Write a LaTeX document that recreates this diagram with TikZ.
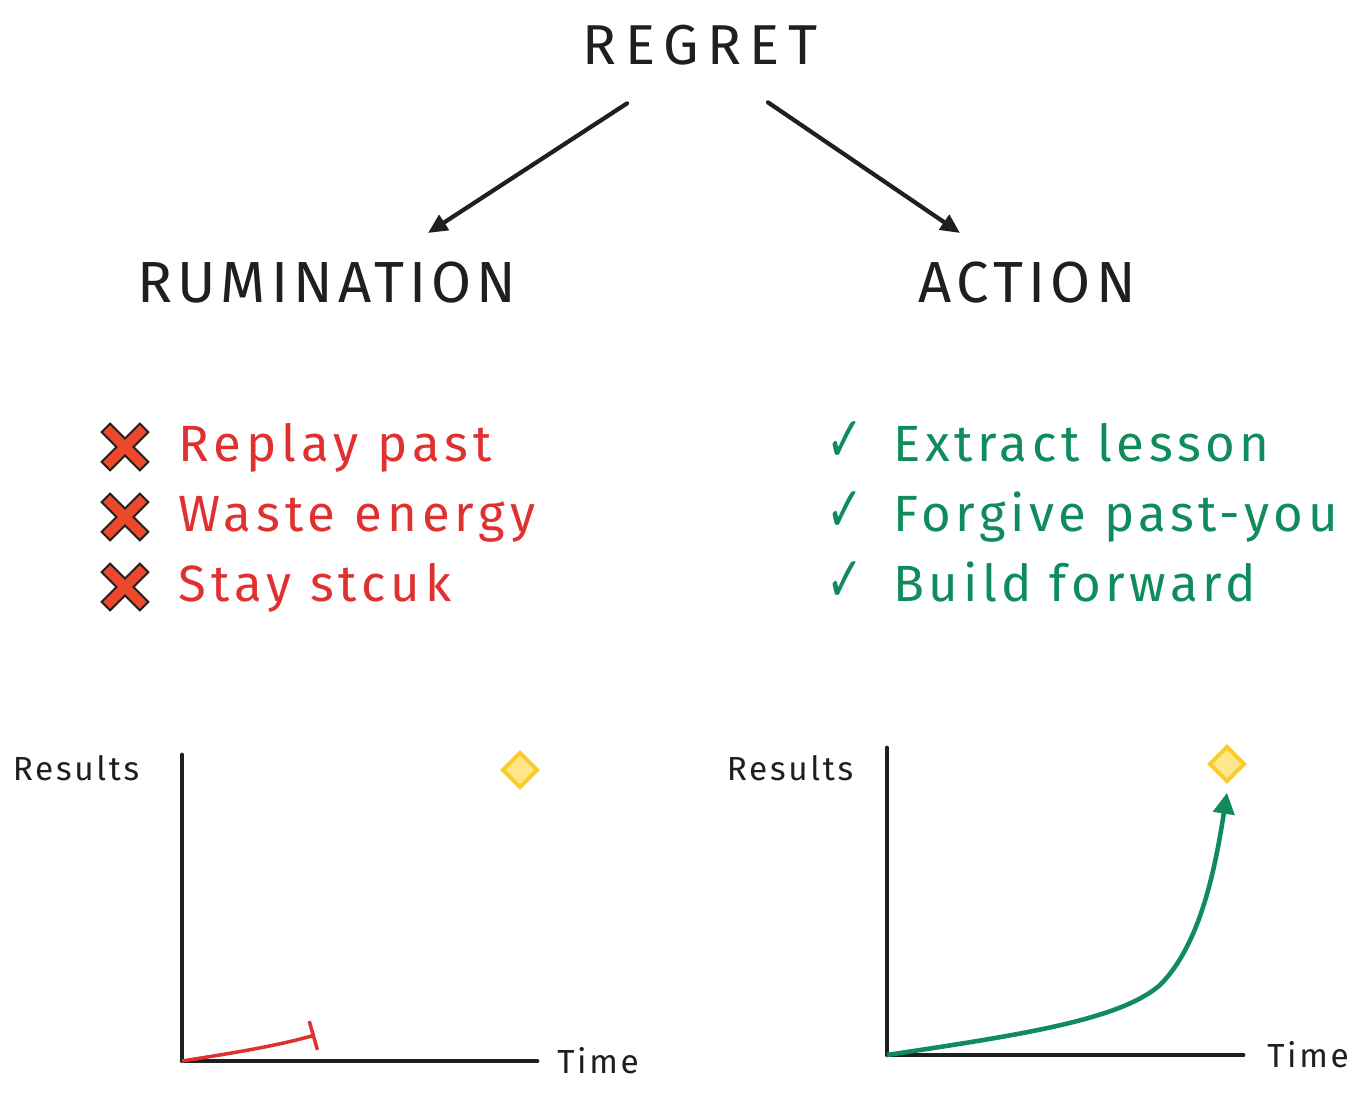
\documentclass[tikz,border=0pt]{standalone}
\usepackage{fontspec}
\setmainfont{Fira Sans}
\newfontfamily\symfont{DejaVu Sans}
\usetikzlibrary{arrows.meta}
\usetikzlibrary{positioning,calc}
\usetikzlibrary{shapes.geometric}
\definecolor{myred}{RGB}{224,49,49}
\definecolor{mygreen}{RGB}{16,140,92}
\definecolor{xfill}{RGB}{236,72,44}
\definecolor{gold}{RGB}{250,204,40}
\definecolor{lightgold}{RGB}{255,230,140}
\colorlet{ink}{black!88}

\begin{document}
\begin{tikzpicture}[
		x=0.02cm, y=-0.02cm,
		every node/.style={
			inner sep=0pt,
			ink
		},
		title/.style={font=\fontsize{32}{36}\selectfont\addfontfeature{LetterSpace=15}},
		head/.style={font=\fontsize{33}{38}\selectfont\addfontfeature{LetterSpace=9}},
		bad/.style={font=\fontsize{29}{32}\selectfont\addfontfeature{LetterSpace=10}, myred, anchor=base west},
		good/.style={font=\fontsize{29}{32}\selectfont\addfontfeature{LetterSpace=9}, mygreen, anchor=base west},
		tick/.style={font=\symfont\fontsize{36}{40}\selectfont, mygreen, anchor=base west},
		axislabel/.style={font=\fontsize{19}{22}\selectfont\addfontfeature{LetterSpace=8}},
		axis/.style={line width=2.8pt, ink, line cap=round, line join=round},
		link/.style={line width=2.4pt, ink, line cap=round, -{Triangle[length=11pt,width=10pt]}},
		goal/.style={diamond, draw=gold, fill=lightgold, line width=2.2pt, minimum size=0.72cm},
		crossmark/.pic={
			\draw[ink, line width=1.1pt, fill=xfill, rotate=45]
				(-6,-27) -- (6,-27) -- (6,-6) -- (27,-6) -- (27,6) -- (6,6) -- (6,27)
				-- (-6,27) -- (-6,6) -- (-27,6) -- (-27,-6) -- (-6,-6) -- cycle;
		}
	]

	\useasboundingbox (0,0) rectangle (1360,1094);

	\node[title] (regret) at (700,45) {REGRET};
	\node[head] (rumination) at (327,283) {RUMINATION};
	\node[head] (action) at (1027,283) {ACTION};

	\draw[link] ($(regret.south)+(-73,38)$) -- ($(rumination.north)+(101,-29)$);
	\draw[link] ($(regret.south)+(68,37)$) -- ($(action.north)+(-67,-29)$);

	% what rumination does
	\foreach \txt [count=\i] in {Replay past, Waste energy, Stay stcuk}{
		\pgfmathsetmacro{\yb}{392+70*\i}
		\pic at (125,\yb-15) {crossmark};
		\node[bad] (bad\i) at (178,\yb) {\txt};
	}

	% what action does
	\foreach \txt [count=\i] in {Extract lesson, Forgive past-you, Build forward}{
		\pgfmathsetmacro{\yb}{392+70*\i}
		\node[tick] (tick\i) at (826,\yb) {\scalebox{0.7}[1]{✓}};
		\node[good] (good\i) at (893,\yb) {\txt};
	}

	% left chart
	\coordinate (ytop1) at (182,755);
	\coordinate (o1) at (182,1061);
	\coordinate (xend1) at (537,1061);
	\draw[axis] (ytop1) -- (o1) -- (xend1);
	\node[axislabel] (res1) at (76,768) {Results};
	\node[axislabel] (time1) at (598,1061) {Time};
	\node[goal] (goal1) at (520,770) {};
	\draw[myred, line width=2pt, -{Bar[width=17pt]}] (o1) .. controls (240,1052) and (280,1045) .. (315,1035);

	% right chart
	\coordinate (ytop2) at (887,748);
	\coordinate (o2) at (887,1055);
	\coordinate (xend2) at (1243,1055);
	\draw[axis] (ytop2) -- (o2) -- (xend2);
	\node[axislabel] (res2) at (790,768) {Results};
	\node[axislabel] (time2) at (1308,1055) {Time};
	\node[goal] (goal2) at (1227,764) {};
	\draw[mygreen, line width=2.6pt, -{Triangle[length=12pt,width=12pt]}] (o2) .. controls (1020,1035) and (1120,1020) .. (1160,985) .. controls (1200,945) and (1215,870) .. ([yshift=-5pt]goal2.south);

\end{tikzpicture}
\end{document}
